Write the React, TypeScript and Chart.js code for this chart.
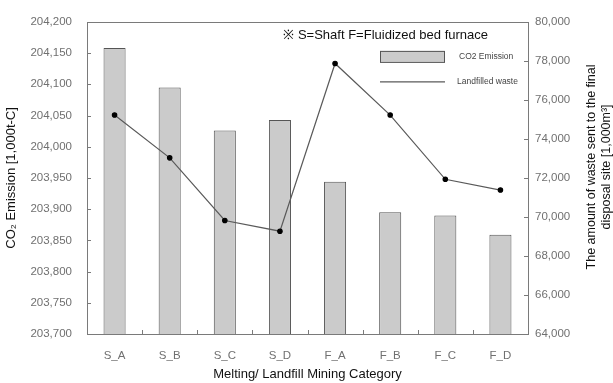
import React, { useEffect, useRef } from "react";
import { Chart, registerables } from "chart.js";

Chart.register(...registerables);

const categories = ["S_A", "S_B", "S_C", "S_D", "F_A", "F_B", "F_C", "F_D"];
const co2Emission = [204158, 204095, 204026, 204043, 203944, 203895, 203890, 203859];
const landfilledWaste = [75225, 73030, 69820, 69270, 77870, 75225, 71930, 71380];
const leftTicks = { min: 203700, max: 204200, step: 50 };
const rightTicks = { min: 64000, max: 80000, step: 2000 };
const noteText = "※ S=Shaft F=Fluidized bed furnace";
const rightTitle = ["The amount of waste sent to the final", "disposal site [1,000m³]"];

const FONT = "'Liberation Sans', Arial, sans-serif";
const BAR_FILL = "#cbcbcb";
const BAR_EDGE = "#555555";
const LINE_COLOR = "#5a5a5a";
const AXIS_COLOR = "#7a7a7a";
const TICK_TEXT = "#707070";

const fmt = (v: number) => Number(v).toLocaleString("en-US");

const decorPlugin = {
  id: "decor",
  afterDraw(chart: any) {
    const ctx = chart.ctx;
    const a = chart.chartArea;
    const y = chart.scales.y;
    const y1 = chart.scales.y1;
    ctx.save();
    // frame
    ctx.strokeStyle = AXIS_COLOR;
    ctx.lineWidth = 1;
    ctx.strokeRect(Math.round(a.left) + 0.5, Math.round(a.top) + 0.5, Math.round(a.right - a.left), Math.round(a.bottom - a.top));
    // inward ticks
    ctx.beginPath();
    y.ticks.forEach((t: any) => {
      const py = Math.round(y.getPixelForValue(t.value)) + 0.5;
      ctx.moveTo(a.left, py);
      ctx.lineTo(a.left + 4, py);
    });
    y1.ticks.forEach((t: any) => {
      const py = Math.round(y1.getPixelForValue(t.value)) + 0.5;
      ctx.moveTo(a.right, py);
      ctx.lineTo(a.right - 4, py);
    });
    const w = (a.right - a.left) / categories.length;
    for (let i = 1; i < categories.length; i++) {
      const px = Math.round(a.left + i * w) + 0.5;
      ctx.moveTo(px, a.bottom);
      ctx.lineTo(px, a.bottom - 4);
    }
    ctx.stroke();

    // note
    ctx.fillStyle = "#111";
    ctx.font = `13px ${FONT}`;
    ctx.textAlign = "right";
    ctx.textBaseline = "middle";
    ctx.fillText(noteText, a.right - 40, a.top + 14);

    // legend
    const lx = a.right - 148;
    ctx.fillStyle = BAR_FILL;
    ctx.fillRect(lx, a.top + 29, 64, 11);
    ctx.strokeStyle = BAR_EDGE;
    ctx.strokeRect(lx + 0.5, a.top + 29.5, 64, 11);
    ctx.beginPath();
    ctx.strokeStyle = LINE_COLOR;
    ctx.lineWidth = 1.2;
    ctx.moveTo(lx, a.top + 60);
    ctx.lineTo(lx + 65, a.top + 60);
    ctx.stroke();
    ctx.fillStyle = "#444";
    ctx.font = `8.5px ${FONT}`;
    ctx.textAlign = "left";
    ctx.fillText(chart.data.datasets[0].label, lx + 79, a.top + 35);
    ctx.fillText(chart.data.datasets[1].label, lx + 77, a.top + 60);

    // right title, reading bottom to top
    ctx.fillStyle = "#111";
    ctx.font = `12.5px ${FONT}`;
    ctx.textAlign = "center";
    ctx.translate(592, (a.top + a.bottom) / 2 - 11);
    ctx.rotate(-Math.PI / 2);
    ctx.fillText(rightTitle[0], 0, 0);
    ctx.fillText(rightTitle[1], 0, 15);
    ctx.restore();
  },
};

export default function App() {
  const ref = useRef<HTMLCanvasElement | null>(null);
  useEffect(() => {
    if (!ref.current) return;
    const chart = new Chart(ref.current, {
      type: "bar",
      data: {
        labels: categories,
        datasets: [
          {
            type: "bar",
            label: "CO2 Emission",
            data: co2Emission,
            backgroundColor: BAR_FILL,
            borderColor: BAR_EDGE,
            borderWidth: 1,
            barPercentage: 0.4,
            categoryPercentage: 1,
            yAxisID: "y",
            order: 2,
          },
          {
            type: "line",
            label: "Landfilled waste",
            data: landfilledWaste,
            borderColor: LINE_COLOR,
            borderWidth: 1.2,
            pointBackgroundColor: "#000",
            pointBorderColor: "#000",
            pointRadius: 2.2,
            yAxisID: "y1",
            order: 1,
          },
        ] as any,
      },
      options: {
        animation: false,
        responsive: true,
        maintainAspectRatio: false,
        layout: { padding: { top: 18, left: 0, right: 0, bottom: 0 } },
        plugins: { legend: { display: false }, tooltip: { enabled: false } },
        scales: {
          x: {
            offset: true,
            grid: { display: false, tickLength: 0 },
            border: { display: false },
            ticks: { color: TICK_TEXT, font: { family: FONT, size: 11.5 }, padding: 15 },
            title: {
              display: true,
              text: "Melting/ Landfill Mining Category",
              color: "#111",
              font: { family: FONT, size: 13 },
              padding: { top: 0, bottom: 1 },
            },
            afterFit: (s: any) => { s.height = 49; },
          },
          y: {
            position: "left",
            min: leftTicks.min,
            max: leftTicks.max,
            grid: { display: false, tickLength: 0 },
            border: { display: false },
            ticks: { stepSize: leftTicks.step, color: TICK_TEXT, font: { family: FONT, size: 11.5 }, padding: 15, callback: (v: any) => fmt(v) },
            title: {
              display: true,
              text: "CO₂ Emission [1,000t-C]",
              color: "#111",
              font: { family: FONT, size: 13 },
              padding: { top: 4, bottom: 0 },
            },
            afterFit: (s: any) => { s.width = 87; },
          },
          y1: {
            position: "right",
            min: rightTicks.min,
            max: rightTicks.max,
            grid: { display: false, tickLength: 0 },
            border: { display: false },
            ticks: { stepSize: rightTicks.step, color: TICK_TEXT, font: { family: FONT, size: 11.5 }, padding: 7, callback: (v: any) => fmt(v) },
            afterFit: (s: any) => { s.width = 85; },
          },
        },
      } as any,
      plugins: [decorPlugin],
    });
    return () => chart.destroy();
  }, []);
  return (
    <div style={{ position: "fixed", left: 0, top: 0, width: 613, height: 383, background: "#fff" }}>
      <canvas ref={ref} />
    </div>
  );
}
